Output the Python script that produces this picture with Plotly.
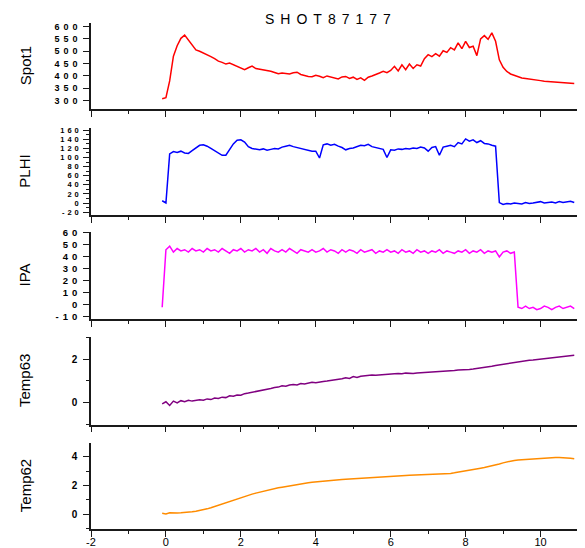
import plotly.graph_objects as go

# ---------------- data ----------------
TIME = [
    -0.1, 0.0, 0.1, 0.2, 0.3, 0.4, 0.5, 0.6, 0.7, 0.8,
    0.9, 1.0, 1.1, 1.2, 1.3, 1.4, 1.5, 1.6, 1.7, 1.8,
    1.9, 2.0, 2.1, 2.2, 2.3, 2.4, 2.5, 2.6, 2.7, 2.8,
    2.9, 3.0, 3.1, 3.2, 3.3, 3.4, 3.5, 3.6, 3.7, 3.8,
    3.9, 4.0, 4.1, 4.2, 4.3, 4.4, 4.5, 4.6, 4.7, 4.8,
    4.9, 5.0, 5.1, 5.2, 5.3, 5.4, 5.5, 5.6, 5.7, 5.8,
    5.9, 6.0, 6.1, 6.2, 6.3, 6.4, 6.5, 6.6, 6.7, 6.8,
    6.9, 7.0, 7.1, 7.2, 7.3, 7.4, 7.5, 7.6, 7.7, 7.8,
    7.9, 8.0, 8.1, 8.2, 8.3, 8.4, 8.5, 8.6, 8.7, 8.8,
    8.9, 9.0, 9.1, 9.2, 9.3, 9.4, 9.5, 9.6, 9.7, 9.8,
    9.9, 10.0, 10.1, 10.2, 10.3, 10.4, 10.5, 10.6, 10.7, 10.8,
    10.9,
]

SPOT1 = [
    308, 312, 380, 480, 522, 552, 565, 545, 520, 505,
    500, 493, 488, 478, 470, 460, 455, 448, 452, 445,
    438, 432, 425, 433, 440, 430, 428, 424, 421, 419,
    414, 409, 412, 410, 408, 413, 415, 406, 401, 398,
    397, 403, 399, 393, 400, 395, 390, 388, 396, 398,
    390, 395, 386, 392, 382, 395, 400, 405, 412, 419,
    413, 422, 439, 420, 445, 425, 448, 430, 445, 440,
    470, 486, 478, 490, 480, 502, 495, 514, 505, 534,
    510, 540, 515, 520, 482, 550, 563, 548, 574, 540,
    465, 435, 418, 408, 402, 396, 392, 390, 387, 385,
    383, 381, 379, 378, 377, 375, 374, 373, 372, 371,
    369,
]

PLHI = [
    5, 0, 108, 113, 111, 114, 110, 109, 115, 121,
    127, 128, 125, 120, 115, 109, 105, 105, 117, 130,
    138, 139, 134, 124, 120, 118, 117, 119, 116, 118,
    120, 119, 123, 125, 127, 124, 122, 121, 118, 116,
    114, 114, 99, 128, 130, 127, 129, 125, 122, 117,
    120, 121, 124, 127, 126, 129, 124, 122, 120, 118,
    100, 117, 116, 119, 118, 120, 119, 121, 120, 123,
    121, 114, 122, 124, 105, 123, 125, 127, 124, 133,
    130, 141, 136, 139, 133, 137, 131, 130, 127, 125,
    1, -3, -1, -2, 0, -1, -2, 1, -1, 0,
    2, 3, 0, 1, 2, 0, 3, 1, 2, 4,
    1,
]

IPA = [
    -2, 46, 49, 44, 47, 45, 46, 44, 47, 45,
    46, 44, 47, 45, 46, 44, 47, 45, 43, 46,
    45, 47, 44, 46, 45, 47, 44, 46, 43, 47,
    45, 44, 46, 44, 47, 45, 43, 46, 45, 44,
    46, 44, 45, 47, 44, 46, 45, 43, 46, 44,
    46, 45, 43, 46, 44, 45, 46, 43, 45, 44,
    46, 44, 45, 43, 46, 44, 45, 43, 46, 44,
    45, 43, 45, 44, 46, 43, 45, 44, 43, 45,
    44, 46, 43, 45, 44, 46, 43, 45, 44, 45,
    40, 44, 45, 43, 44, -2, -3, -1, -3, -2,
    -4, -3, -1, -2, -4, -2, -1, -3, -2, -1,
    -3,
]

TEMP63 = [
    -0.05, 0.05, -0.12, 0.08, 0.0, 0.1, 0.05, 0.12, 0.08, 0.1,
    0.14, 0.12, 0.18, 0.15, 0.22, 0.2, 0.26, 0.24, 0.32, 0.3,
    0.36, 0.35, 0.42, 0.45, 0.48, 0.52, 0.56, 0.6, 0.62, 0.66,
    0.7, 0.72, 0.78, 0.76, 0.82, 0.84, 0.82, 0.88, 0.86, 0.9,
    0.94, 0.92, 0.96, 0.98, 1.0, 1.02, 1.06, 1.05, 1.1, 1.15,
    1.12, 1.2, 1.16, 1.22, 1.24, 1.23, 1.27, 1.26, 1.28, 1.3,
    1.29, 1.32, 1.33, 1.34, 1.33, 1.36, 1.35, 1.34, 1.37, 1.38,
    1.37, 1.4, 1.39, 1.42, 1.44, 1.43, 1.46, 1.45, 1.48, 1.5,
    1.5, 1.52, 1.53, 1.55, 1.57, 1.58, 1.6, 1.63, 1.67, 1.71,
    1.74, 1.77, 1.8, 1.82, 1.85, 1.87, 1.9, 1.92, 1.95, 1.96,
    1.98, 2.0, 2.02, 2.03, 2.06, 2.07, 2.09, 2.1, 2.13, 2.15,
    2.18,
]

TEMP62 = [
    0.05, 0.0, 0.08, 0.06, 0.07, 0.08, 0.09, 0.12, 0.15, 0.19,
    0.23, 0.28, 0.36, 0.44, 0.53, 0.62, 0.71, 0.8, 0.9, 0.98,
    1.06, 1.14, 1.22, 1.31, 1.39, 1.46, 1.53, 1.6, 1.66, 1.72,
    1.78, 1.84, 1.88, 1.93, 1.98, 2.02, 2.06, 2.1, 2.14, 2.18,
    2.22, 2.25, 2.28, 2.3, 2.33, 2.35, 2.37, 2.39, 2.41, 2.43,
    2.45, 2.47, 2.49, 2.51, 2.53, 2.55, 2.57, 2.59, 2.6, 2.62,
    2.64, 2.65, 2.67, 2.68, 2.69, 2.7, 2.71, 2.72, 2.73, 2.74,
    2.75, 2.76, 2.77, 2.78, 2.79, 2.8, 2.81, 2.84, 2.88, 2.92,
    2.96, 3.0, 3.05, 3.1, 3.16, 3.21, 3.26, 3.31, 3.37, 3.43,
    3.5, 3.58, 3.65, 3.71, 3.75, 3.78, 3.8, 3.82, 3.84, 3.87,
    3.9, 3.92, 3.94, 3.95, 3.96, 3.96, 3.96, 3.95, 3.93, 3.9,
    3.86,
]

NAMES = ["Spot1", "PLHI", "IPA", "Temp63", "Temp62"]
X_TICKS = [-2, 0, 2, 4, 6, 8, 10]
SPOT1_TICKS = [300, 350, 400, 450, 500, 550, 600]
PLHI_TICKS = [-20, 0, 20, 40, 60, 80, 100, 120, 140, 160]
IPA_TICKS = [-10, 0, 10, 20, 30, 40, 50, 60]
TEMP63_TICKS = [0, 2]
TEMP62_TICKS = [0, 2, 4]
TITLE = "SHOT87177"

# ---------------- styling / layout ----------------
series = [SPOT1, PLHI, IPA, TEMP63, TEMP62]
ticks = [SPOT1_TICKS, PLHI_TICKS, IPA_TICKS, TEMP63_TICKS, TEMP62_TICKS]
colors = ["#ff0000", "#0000ff", "#ff00ff", "#800080", "#ff8c00"]
yranges = [[265, 614], [-27, 165], [-12, 61], [-1, 3], [-1.05, 4.95]]
minor_dt = [None, 10, None, 1, 1]
tick_sizes = [9, 7.5, 9.5, 10, 10]
tick_spacing = [4, 3, 4, 4, 4]
domains = [[0.8294, 1.0], [0.620, 0.7925], [0.4144, 0.5875],
           [0.2061, 0.3789], [0.0, 0.1694]]

FONT = "Liberation Sans, Arial, sans-serif"
AXC = "#1a1a1a"

fig = go.Figure()
# the page body has an 8px margin, so the figure is 8px smaller than the window
layout = dict(
    width=577, height=540,
    margin=dict(l=83, r=7, t=15, b=19, autoexpand=False),
    paper_bgcolor="white", plot_bgcolor="white",
    showlegend=False,
    font=dict(family=FONT, color="black"),
)

annotations = []
for i in range(5):
    n = "" if i == 0 else str(i + 1)
    fig.add_trace(go.Scatter(
        x=TIME, y=series[i], mode="lines", name=NAMES[i],
        line=dict(color=colors[i], width=1.5),
        xaxis="x" + n, yaxis="y" + n,
    ))
    xa = dict(
        domain=[0, 1], anchor="y" + n, range=[-2, 11], automargin=False,
        showline=True, linecolor=AXC, linewidth=1.5,
        ticks="outside", ticklen=6, tickwidth=1.2, tickcolor=AXC,
        tickmode="array", tickvals=X_TICKS,
        ticktext=[str(v) for v in X_TICKS],
        showticklabels=(i == 4), ticklabelstandoff=-4,
        tickfont=dict(size=11, family=FONT, color="black"),
        minor=dict(tickmode="linear", tick0=-1, dtick=2, ticks="outside",
                   ticklen=3, tickwidth=1.2, tickcolor=AXC),
        showgrid=False, zeroline=False,
    )
    ya = dict(
        domain=domains[i], anchor="x" + n, range=yranges[i], automargin=False,
        showline=True, linecolor=AXC, linewidth=1.5,
        ticks="outside", ticklen=6, tickwidth=1.2, tickcolor=AXC,
        tickmode="array", tickvals=ticks[i],
        ticktext=['<span style="letter-spacing:%dpx">%s</span>' % (tick_spacing[i], v)
                  for v in ticks[i]],
        tickfont=dict(size=tick_sizes[i], family=FONT, color="black", weight="bold"),
        showgrid=False, zeroline=False,
    )
    if minor_dt[i] is not None:
        ya["minor"] = dict(tickmode="linear", tick0=0, dtick=minor_dt[i],
                           ticks="outside", ticklen=3, tickwidth=1.2,
                           tickcolor=AXC)
    layout["xaxis" + n] = xa
    layout["yaxis" + n] = ya
    annotations.append(dict(
        text=NAMES[i], xref="paper", yref="paper",
        x=-0.1355, y=(domains[i][0] + domains[i][1]) / 2,
        xanchor="center", yanchor="middle", textangle=-90,
        showarrow=False, font=dict(size=15, family=FONT, color="black"),
    ))

annotations.append(dict(
    text='<span style="letter-spacing:6px">%s</span>' % TITLE,
    xref="paper", yref="paper", x=0.493, y=1.008,
    xanchor="center", yanchor="middle", showarrow=False,
    font=dict(size=14, family=FONT, color="black"),
))
layout["annotations"] = annotations
fig.update_layout(**layout)

fig.write_html("out.html")
